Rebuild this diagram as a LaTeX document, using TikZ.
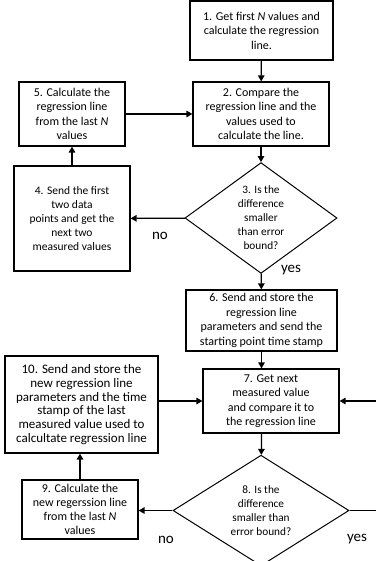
\documentclass[tikz,border=0pt]{standalone}
\usepackage{fontspec}
\setmainfont{Carlito}
\usetikzlibrary{shapes.geometric,arrows.meta}
\begin{document}
\begin{tikzpicture}[x=1pt,y=-1pt,
	box/.style={draw,line width=1.2pt,align=center,inner sep=0pt,font=\fontsize{12}{14.5}\selectfont},
	dec/.style={draw,diamond,line width=1pt,align=center,inner sep=0pt,font=\fontsize{11.3}{14}\selectfont},
	arr/.style={-{Triangle[length=6pt,width=6.5pt]},line width=1.3pt},
	lab/.style={font=\fontsize{15}{15}\selectfont}]
	\useasboundingbox (0,0) rectangle (375,561);
	% first loop
	\node[box,minimum width=143pt,minimum height=59pt] (b1) at (261.5,30.5) {1. Get first \textit{N} values and\\calculate the regression\\line.};
	\node[box,minimum width=136pt,minimum height=64pt] (b2) at (261,114) {2. Compare the\\regression line and the\\values used to\\calculate the line.};
	\node[box,minimum width=106pt,minimum height=64pt] (b5) at (72,114) {5. Calculate the\\regression line\\from the last \textit{N}\\values};
	\node[box,minimum width=116pt,minimum height=105pt,font=\fontsize{11.5}{14}\selectfont] (b4) at (72,218.5) {4. Send the first\\two data\\points and get the\\next two\\measured values};
	\node[dec,minimum width=152pt,minimum height=96pt] (d3) at (261,218) {3. Is the\\difference\\smaller\\than  error\\bound?};
	\draw[arr] (b1) -- (b2);
	\draw[arr] (b2) -- (d3);
	\draw[arr] (d3) -- (b4);
	\draw[arr] (b4) -- (b5);
	\draw[arr] (b5) -- (b2);
	\node[lab] (no1) at (160,236) {no};
	\node[lab] (yes1) at (291,270) {yes};
	% second loop
	\node[box,minimum width=151pt,minimum height=61pt] (b6) at (261.5,320.5) {6. Send and store the\\regression line\\parameters  and send the\\starting point time stamp};
	\node[box,minimum width=136pt,minimum height=64pt] (b7) at (271,401) {7. Get next\\measured value\\and compare  it to\\the regression line};
	\node[box,minimum width=153pt,minimum height=97pt,font=\fontsize{13}{13.8}\selectfont] (b10) at (81.5,404.5) {10. Send and store the\\new regression line\\parameters  and the time\\stamp of the last\\measured value used to\\calcultate regression line};
	\node[box,minimum width=116pt,minimum height=59pt,font=\fontsize{12}{13.8}\selectfont] (b9) at (80,509.5) {9. Calculate the\\new regerssion line\\from the last \textit{N}\\values};
	\node[dec,minimum width=176pt,minimum height=93pt] (d8) at (261,510.5) {8. Is the\\difference\\smaller than\\error  bound?};
	\coordinate (edge) at (378,510.5);
	\draw[arr] (d3) -- (b6);
	\draw[arr] (b6.south) -- (b6.south |- b7.north);
	\draw[arr] (b7.south -| b6.south) -- (d8);
	\draw[arr] (d8) -- (d8.west -| b9.east);
	\draw[arr] (b9.north) -- (b9.north |- b10.south);
	\draw[arr] (b7.west -| b10.east) -- (b7.west);
	\draw[arr] (d8.east) -- (edge) |- (b7.east);
	\node[lab] (no2) at (166,540) {no};
	\node[lab] (yes2) at (357,539) {yes};
\end{tikzpicture}
\end{document}
